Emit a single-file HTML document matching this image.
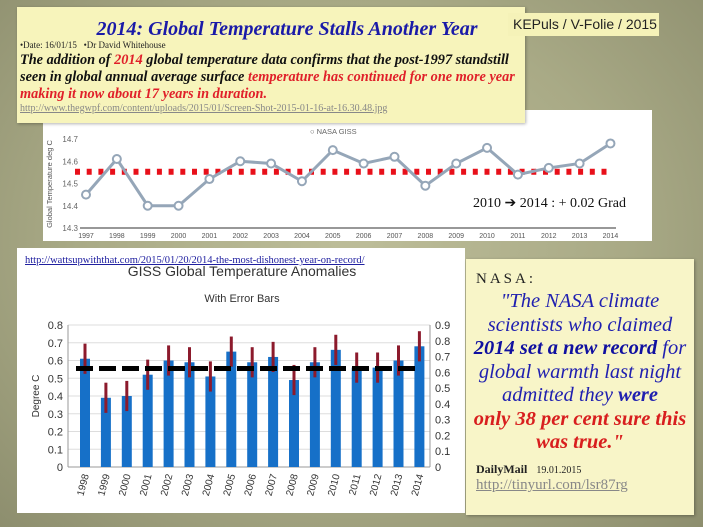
<!DOCTYPE html>
<html><head><meta charset="utf-8">
<style>
body{margin:0;}
#slide{position:relative;width:703px;height:527px;overflow:hidden;background:radial-gradient(ellipse at 50% 45%,#bdbd99 0%,#a9aa86 55%,#8d8e6e 100%);font-family:"Liberation Serif",serif;}
.abs{position:absolute;}
svg text{font-family:"Liberation Sans",sans-serif;}
</style></head><body>
<div id="slide">

<svg class="abs" style="left:0;top:0" width="703" height="527">
<rect x="43" y="110" width="609" height="131" fill="#fff"/>
<g id="top"></g>
<rect x="17" y="248" width="448" height="265" fill="#fff"/>
<g id="bot"></g>
</svg>

<div class="abs" style="left:17px;top:7px;width:508px;height:116px;background:#f7f4bb;box-shadow:1px 1px 3px rgba(0,0,0,.3);">
<div style="position:absolute;left:0;width:540px;top:11px;text-align:center;font:italic bold 20px 'Liberation Serif',serif;color:#1a1aa8;">2014: Global Temperature Stalls Another Year</div>
<div style="position:absolute;left:3px;top:33px;font:9px 'Liberation Serif',serif;color:#222;">•Date: 16/01/15 &nbsp;&nbsp;•Dr David Whitehouse</div>
<div style="position:absolute;left:3px;top:45px;width:505px;font:italic bold 14.3px/17px 'Liberation Serif',serif;color:#111;">The addition of <span style="color:#e0202a">2014</span> global temperature data confirms that the post-1997 standstill seen in global annual average surface <span style="color:#e0202a">temperature has continued for one more year making it now about 17 years in duration.</span></div>
<div style="position:absolute;left:3px;top:96px;font:10px 'Liberation Serif',serif;color:#888;text-decoration:underline;">http://www.thegwpf.com/content/uploads/2015/01/Screen-Shot-2015-01-16-at-16.30.48.jpg</div>
</div>
<div class="abs" style="left:508px;top:13px;width:151px;height:23px;background:#f5f2b8;"></div>
<div class="abs" style="left:513px;top:16px;font:14px 'Liberation Sans',sans-serif;color:#222;">KEPuls / V-Folie / 2015</div>

<div class="abs" style="left:473px;top:195px;font:14px 'Liberation Serif',serif;color:#111;">2010 ➔ 2014 : + 0.02 Grad</div>
<div class="abs" style="left:25px;top:255px;font:10.5px 'Liberation Serif',serif;color:#2020a0;text-decoration:underline;">http://wattsupwiththat.com/2015/01/20/2014-the-most-dishonest-year-on-record/</div>

<div class="abs" style="left:466px;top:259px;width:228px;height:256px;background:#f8f5c8;box-shadow:1px 1px 3px rgba(0,0,0,.3);">
<div style="position:absolute;left:10px;top:12px;font:15px 'Liberation Serif',serif;letter-spacing:3px;color:#222;">NASA:</div>
<div style="position:absolute;left:0;width:228px;top:31px;text-align:center;font:italic 20.5px/23.5px 'Liberation Serif',serif;color:#2020b0;">"The NASA climate scientists who claimed <b style="color:#1010a0">2014 set a new record</b> for global warmth last night admitted they <b>were</b><br><b style="color:#d81e1e">only 38 per cent sure this was true."</b></div>
<div style="position:absolute;left:10px;top:203px;font:12px 'Liberation Serif',serif;color:#222;"><b>DailyMail</b> &nbsp;&nbsp;<span style="font-size:10px">19.01.2015</span></div>
<div style="position:absolute;left:10px;top:218px;font:15px 'Liberation Serif',serif;color:#888;text-decoration:underline;">http://tinyurl.com/lsr87rg</div>
</div>
</div>
<script>
const years=["1997","1998","1999","2000","2001","2002","2003","2004","2005","2006","2007","2008","2009","2010","2011","2012","2013","2014"];
const giss=[14.45,14.61,14.40,14.40,14.52,14.60,14.59,14.51,14.65,14.59,14.62,14.49,14.59,14.66,14.54,14.57,14.59,14.68];
const topTicks=[14.3,14.4,14.5,14.6,14.7];
const topMean=[14.555];
const barYears=["1998","1999","2000","2001","2002","2003","2004","2005","2006","2007","2008","2009","2010","2011","2012","2013","2014"];
const anomalies=[0.61,0.39,0.40,0.52,0.60,0.59,0.51,0.65,0.59,0.62,0.49,0.59,0.66,0.56,0.56,0.60,0.68];
const errors=[0.085,0.085,0.085,0.085,0.085,0.085,0.085,0.085,0.085,0.085,0.085,0.085,0.085,0.085,0.085,0.085,0.085];
const leftTicks=[0,0.1,0.2,0.3,0.4,0.5,0.6,0.7,0.8];
const rightTicks=[0,0.1,0.2,0.3,0.4,0.5,0.6,0.7,0.8,0.9];
const botMean=[0.555];
const NS="http://www.w3.org/2000/svg";
function mk(p,t,a){const e=document.createElementNS(NS,t);for(const k in a)e.setAttribute(k,a[k]);p.appendChild(e);return e;}
const T=document.getElementById('top');
const tx=i=>86+i*30.85, ty=v=>139+(14.7-v)*222.5;
mk(T,'line',{x1:80,x2:616,y1:ty(14.3),y2:ty(14.3),stroke:'#777','stroke-width':1.5});
topTicks.forEach(v=>{const t=mk(T,'text',{x:78,y:ty(v)+3,'text-anchor':'end','font-size':8,fill:'#666'});t.textContent=v.toFixed(1);

});
years.forEach((y,i)=>{const t=mk(T,'text',{x:tx(i),y:238,'text-anchor':'middle','font-size':7,fill:'#555'});t.textContent=y;

});
const yt=mk(T,'text',{x:0,y:0,transform:'translate(52,184) rotate(-90)','text-anchor':'middle','font-size':7.5,fill:'#555'});yt.textContent='Global Temperature deg C';


const lg=mk(T,'text',{x:310,y:134,'font-size':7.5,fill:'#666'});lg.textContent='○ NASA GISS';


const mY=ty(topMean[0]);
for(let x=75;x<=606;x+=11.7){const d=mk(T,'rect',{x:x,y:mY-2.5,width:5,height:6,fill:'#e8101a'});

}
const pl=mk(T,'polyline',{points:giss.map((v,i)=>tx(i)+','+ty(v)).join(' '),fill:'none',stroke:'#95a6b8','stroke-width':3});


giss.forEach((v,i)=>{const c=mk(T,'circle',{cx:tx(i),cy:ty(v),r:4,fill:'#fff',stroke:'#95a6b8','stroke-width':2});

});
const B=document.getElementById('bot');
const bx=i=>85+i*20.9, by=v=>467-v*177.5, byR=v=>467-v*157.8;
const h1=mk(B,'text',{x:242,y:276,'text-anchor':'middle','font-size':14,fill:'#333'});h1.textContent='GISS Global Temperature Anomalies';


const h2=mk(B,'text',{x:242,y:302,'text-anchor':'middle','font-size':11,fill:'#333'});h2.textContent='With Error Bars';


leftTicks.forEach(v=>{mk(B,'line',{x1:68,x2:430,y1:by(v),y2:by(v),stroke:'#ddd','stroke-width':1});
const t=mk(B,'text',{x:63,y:by(v)+4,'text-anchor':'end','font-size':11,fill:'#333'});t.textContent=v===0?'0':v.toFixed(1);

});
rightTicks.forEach(v=>{const t=mk(B,'text',{x:435,y:byR(v)+4,'font-size':11,fill:'#333'});t.textContent=v===0?'0':v.toFixed(1);

});
mk(B,'line',{x1:68,x2:68,y1:by(0.8),y2:by(0),stroke:'#999'});
mk(B,'line',{x1:430,x2:430,y1:by(0.8),y2:by(0),stroke:'#999'});
mk(B,'line',{x1:68,x2:430,y1:by(0),y2:by(0),stroke:'#999'});
const ya=mk(B,'text',{x:0,y:0,transform:'translate(39,396) rotate(-90)','text-anchor':'middle','font-size':10,fill:'#333'});ya.textContent='Degree C';


anomalies.forEach((v,i)=>{const r=mk(B,'rect',{x:bx(i)-5,y:by(v),width:10,height:by(0)-by(v),fill:'#1670c8'});


const e=mk(B,'line',{x1:bx(i),x2:bx(i),y1:by(v+errors[i]),y2:by(v-errors[i]),stroke:'#8c1a2c','stroke-width':3});


const t=mk(B,'text',{x:0,y:0,transform:`translate(${bx(i)+4},475) rotate(-75)`,'text-anchor':'end','font-size':10,fill:'#333'});t.textContent=barYears[i];

});
const dl=mk(B,'line',{x1:76,x2:421,y1:by(botMean[0]),y2:by(botMean[0]),stroke:'#000','stroke-width':5,'stroke-dasharray':'17 6'});


</script>
</body></html>
